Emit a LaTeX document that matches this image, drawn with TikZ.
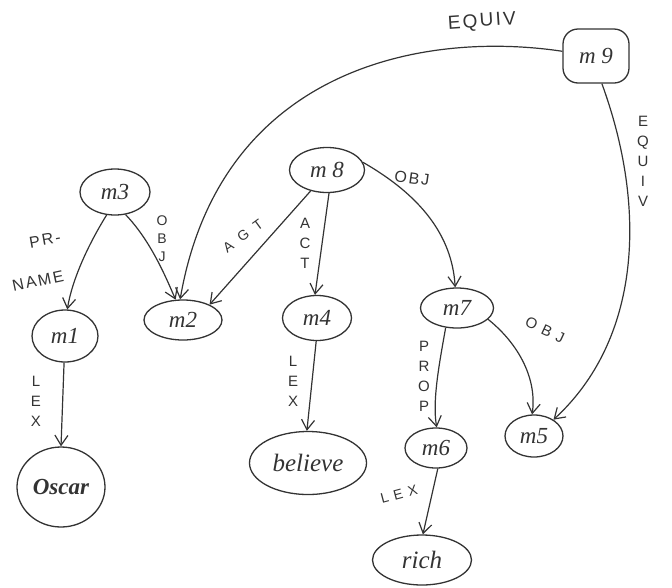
\documentclass[tikz,border=0pt]{standalone}
\usepackage{fontspec}
\setmainfont{Liberation Serif}
\newfontfamily\lblfont[LetterSpace=12]{Liberation Sans}
\newfontfamily\widelblfont[LetterSpace=40]{Liberation Sans}
\newfontfamily\widerlblfont[LetterSpace=60]{Liberation Sans}
\usetikzlibrary{arrows.meta,shapes.geometric}
\definecolor{ink}{HTML}{333333}

\begin{document}
\begin{tikzpicture}[x=1pt,y=-1pt,
  nd/.style={draw=ink, line width=1.3pt, ellipse, inner sep=0pt, text=ink,
             font=\itshape\fontsize{23}{23}\selectfont},
  word/.style={nd, font=\itshape\fontsize{25}{25}\selectfont},
  arc/.style={draw=ink, line width=1.2pt,
              -{Straight Barb[length=10pt,width=13pt,line width=1.2pt]}},
  lbl/.style={text=ink, inner sep=0pt, align=center,
              font=\lblfont\fontsize{16}{16}\selectfont},
  slant/.style={lbl, font=\widelblfont\fontsize{15}{15}\selectfont},
  steep/.style={lbl, font=\widerlblfont\fontsize{14}{14}\selectfont},
  stack/.style={text=ink, inner sep=0pt, align=center,
              font=\lblfont\fontsize{15}{20}\selectfont},
]
\useasboundingbox (0,0) rectangle (672,587);

% concept nodes
\node[nd, minimum width=70, minimum height=46] (m3) at (115,192) {m3};
\node[nd, minimum width=66, minimum height=52] (m1) at (65,336) {m1};
\node[word, minimum width=88, minimum height=80, font=\bfseries\itshape\fontsize{23}{23}\selectfont] (oscar) at (61,487) {Oscar};
\node[nd, minimum width=78, minimum height=40] (m2) at (183,320) {m2};
\node[nd, minimum width=75, minimum height=45] (m8) at (327,170) {m 8};
\node[nd, minimum width=69, minimum height=45] (m4) at (317,318) {m4};
\node[word, minimum width=117, minimum height=63] (believe) at (308,463) {believe};
\node[nd, minimum width=73, minimum height=40] (m7) at (457,308) {m7};
\node[nd, minimum width=62, minimum height=40] (m6) at (436,448) {m6};
\node[nd, minimum width=58, minimum height=42] (m5) at (534,436) {m5};
\node[word, minimum width=99, minimum height=50] (rich) at (422,560) {rich};
\node[nd, rectangle, rounded corners=15pt, minimum width=66, minimum height=54] (m9) at (596,56) {m 9};

% relations
\draw[arc] (m3.250) .. controls (88,245) and (72,280) .. (m1.85);
\draw[arc] (m3.295) .. controls (150,240) and (165,275) .. (m2.110);
\draw[arc] (m1.268) -- (oscar.90);
\draw[arc] (m8.232) -- (m2.30);
\draw[arc] (m8.275) -- (m4.95);
\draw[arc] (m8.12) .. controls (420,195) and (452,235) .. (m7.95);
\draw[arc] (m4.268) -- (believe.92);
\draw[arc] (m7.240) .. controls (440,360) and (432,400) .. (m6.88);
\draw[arc] (m7.-20) .. controls (520,345) and (537,380) .. (m5.95);
\draw[arc] (m6.275) -- (rich.88);
\draw[arc] (m9.172) .. controls (420,30) and (220,70) .. (m2.98);
\draw[arc] (m9.282) .. controls (648,210) and (640,340) .. (m5.40);

% relation labels
\node[lbl, rotate=4, font=\lblfont\fontsize{19}{19}\selectfont] (tEquivA) at (482,22) {EQUIV};
\node[stack] (tEquivB) at (643,161) {E\\Q\\U\\I\\V};
\node[lbl, rotate=10] (tPr) at (45,240) {PR-};
\node[lbl, rotate=12] (tName) at (38,281) {NAME};
\node[stack, font=\lblfont\fontsize{14}{18}\selectfont] (tObjA) at (162,239) {O\\B\\J};
\node[steep, rotate=36] (tAgt) at (243,236) {AGT};
\node[stack] (tAct) at (305,243) {A\\C\\T};
\node[stack] (tLexA) at (293,381) {L\\E\\X};
\node[lbl, rotate=-8] (tObjB) at (412,178) {OBJ};
\node[stack] (tLexB) at (36,401) {L\\E\\X};
\node[stack] (tProp) at (424,376) {P\\R\\O\\P};
\node[slant, rotate=-25] (tObjC) at (545,330) {OBJ};
\node[slant, rotate=15, font=\widelblfont\fontsize{14}{14}\selectfont] (tLexC) at (399,494) {LEX};
\end{tikzpicture}
\end{document}
